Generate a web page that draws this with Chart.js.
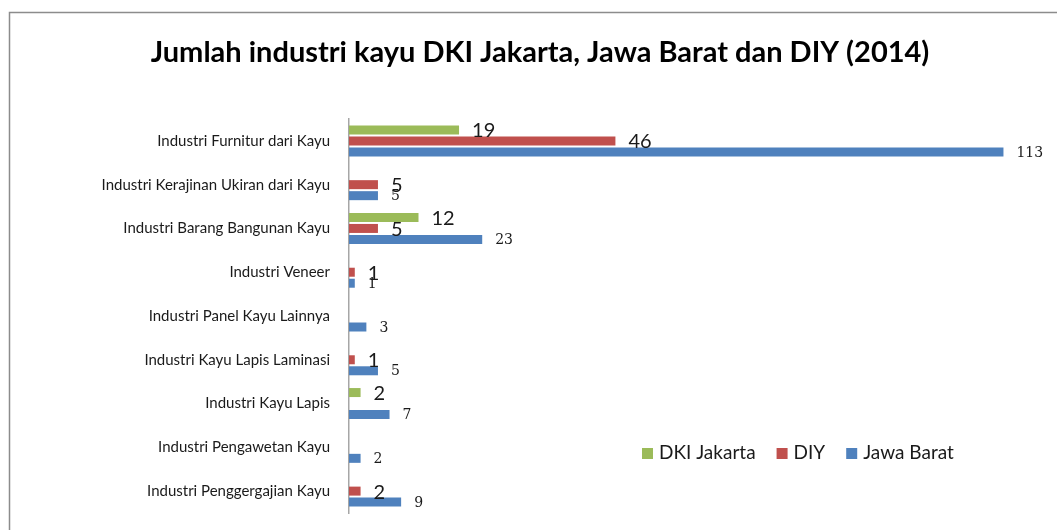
<!DOCTYPE html>
<html>
<head>
<meta charset="utf-8">
<script src="https://cdn.jsdelivr.net/npm/chart.js@4/dist/chart.umd.min.js"></script>
<style>
  html, body { margin: 0; padding: 0; background: #fff; }
  canvas { display: block; }
</style>
</head>
<body>
<canvas id="kayuChart" width="1057" height="530"></canvas>
<script>
// data (0 = no bar shown)
const kategori = [
  "Industri Furnitur dari Kayu",
  "Industri Kerajinan Ukiran dari Kayu",
  "Industri Barang Bangunan Kayu",
  "Industri Veneer",
  "Industri Panel Kayu Lainnya",
  "Industri Kayu Lapis Laminasi",
  "Industri Kayu Lapis",
  "Industri Pengawetan Kayu",
  "Industri Penggergajian Kayu",
];
const dkiJakarta = [19, 0, 12, 0, 0, 0, 2, 0, 0];
const diy = [46, 5, 5, 1, 0, 1, 0, 0, 2];
const jawaBarat = [113, 5, 23, 1, 3, 5, 7, 2, 9];

const judul = "Jumlah industri kayu DKI Jakarta, Jawa Barat dan DIY (2014)";

const SANS = "Lato, 'Open Sans', sans-serif";
const SERIF = "'DejaVu Serif', 'Liberation Serif', serif";

// frame, title, bar value labels and legend drawn like the Excel original
const hiasan = {
  id: "hiasan",
  beforeDraw(chart) {
    const ctx = chart.ctx;
    ctx.save();
    ctx.strokeStyle = "#8c8c8c";
    ctx.lineWidth = 1.5;
    ctx.strokeRect(9.5, 12.5, 1200, 700);
    ctx.fillStyle = "#000";
    ctx.font = `bold 29px ${SANS}`;
    ctx.textAlign = "center";
    ctx.textBaseline = "middle";
    ctx.fillText(judul, 540, 53);
    ctx.restore();
  },
  afterDatasetsDraw(chart) {
    const ctx = chart.ctx;
    ctx.save();
    ctx.fillStyle = "#1a1a1a";
    ctx.textBaseline = "middle";
    ctx.textAlign = "left";
    chart.data.datasets.forEach((ds, i) => {
      const meta = chart.getDatasetMeta(i);
      const biru = i === 2;
      ctx.font = biru ? `14px ${SERIF}` : `20px ${SANS}`;
      meta.data.forEach((bar, j) => {
        const v = ds.data[j];
        if (!v) return;
        ctx.fillText(String(v), bar.x + 13, bar.y + 1);
      });
    });
    ctx.restore();
  },
  afterDraw(chart) {
    const ctx = chart.ctx;
    const area = chart.chartArea;
    ctx.save();
    ctx.font = `19px ${SANS}`;
    ctx.textBaseline = "middle";
    let x = area.left + 293;
    const y = 453;
    chart.data.datasets.forEach((ds) => {
      ctx.fillStyle = ds.backgroundColor;
      ctx.fillRect(x, y - 5, 11, 11);
      x += 17;
      ctx.fillStyle = "#1a1a1a";
      ctx.fillText(ds.label, x, y);
      x += ctx.measureText(ds.label).width + 21;
    });
    ctx.restore();
  },
};

new Chart(document.getElementById("kayuChart"), {
  type: "bar",
  data: {
    labels: kategori,
    datasets: [
      { label: "DKI Jakarta", data: dkiJakarta, backgroundColor: "#9BBB59" },
      { label: "DIY", data: diy, backgroundColor: "#C0504D" },
      { label: "Jawa Barat", data: jawaBarat, backgroundColor: "#4F81BD" },
    ],
  },
  options: {
    indexAxis: "y",
    responsive: false,
    animation: false,
    categoryPercentage: 0.754,
    barPercentage: 0.818,
    layout: { padding: { left: 9, right: 13, top: 119, bottom: 17 } },
    scales: {
      x: { display: false, min: 0, max: 120 },
      y: {
        grid: { display: false, drawTicks: false },
        border: { display: true, color: "#a6a6a6", width: 1.5 },
        ticks: {
          padding: 19,
          color: "#1a1a1a",
          font: { family: SANS, size: 15 },
        },
        afterFit(scale) {
          scale.width = 340;
          scale.paddingTop = 0;
          scale.paddingBottom = 0;
        },
      },
    },
    plugins: {
      legend: { display: false },
      tooltip: { enabled: false },
      title: { display: false },
    },
  },
  plugins: [hiasan],
});
</script>
</body>
</html>
